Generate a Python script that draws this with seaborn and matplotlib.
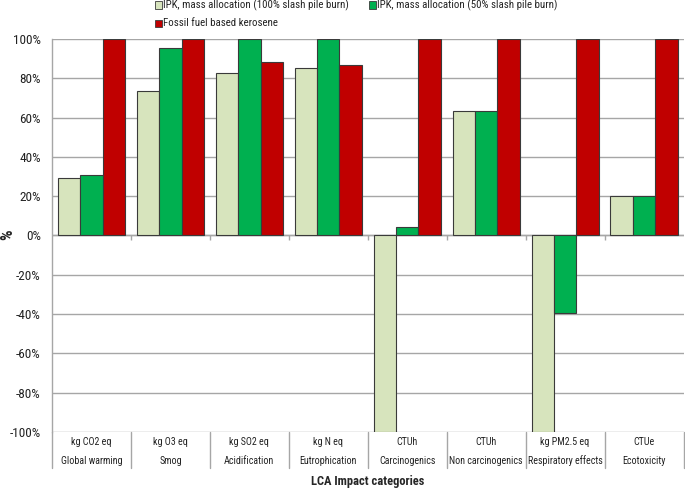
import matplotlib
matplotlib.use("Agg")
import matplotlib.pyplot as plt
import matplotlib.transforms as mtransforms
from matplotlib.patches import Rectangle
from matplotlib.ticker import FuncFormatter
import seaborn as sns
import pandas as pd

units = ["kg CO2 eq", "kg O3 eq", "kg SO2 eq", "kg N eq", "CTUh", "CTUh", "kg PM2.5 eq", "CTUe"]
categories = ["Global warming", "Smog", "Acidification", "Eutrophication", "Carcinogenics",
              "Non carcinogenics", "Respiratory effects", "Ecotoxicity"]
series_names = ["IPK, mass allocation (100% slash pile burn)",
                "IPK, mass allocation (50% slash pile burn)",
                "Fossil fuel based kerosene"]
ipk_100 = [29.5, 73.6, 82.5, 85.2, -100, 63.4, -100, 20.0]
ipk_50 = [31.0, 95.6, 100, 100, 4.3, 63.4, -39.4, 20.0]
fossil = [100, 100, 88.3, 86.6, 100, 100, 100, 100]
colors = ["#D7E4BD", "#00B050", "#C00000"]
yticks = [-100, -80, -60, -40, -20, 0, 20, 40, 60, 80, 100]

rows = []
for name, vals in zip(series_names, [ipk_100, ipk_50, fossil]):
    for cat, v in zip(categories, vals):
        rows.append({"category": cat, "series": name, "value": v})
df = pd.DataFrame(rows)

sns.set_style("white")
FONT = ["Roboto Condensed", "Liberation Sans Narrow", "Roboto", "DejaVu Sans"]
plt.rcParams["font.family"] = FONT

W, H = 685, 491
fig = plt.figure(figsize=(W / 100, H / 100), dpi=100)
x0, x1, ytop, ybot = 52, 683.5, 39, 432
ax = fig.add_axes([x0 / W, 1 - ybot / H, (x1 - x0) / W, (ybot - ytop) / H])

sns.barplot(data=df, x="category", y="value", hue="series", hue_order=series_names,
            order=categories, palette=colors, saturation=1, width=0.85,
            edgecolor="#3a3a3a", linewidth=0.8, legend=False, ax=ax, zorder=3)

ax.set_xlim(-0.5, len(categories) - 0.5)
ax.set_ylim(-100, 100)
ax.set_yticks(yticks)
ax.yaxis.set_major_formatter(FuncFormatter(lambda v, p: f"{int(round(v))}%"))
ax.grid(axis="y", color="#A6A6A6", linewidth=1.0, zorder=0)
ax.set_axisbelow(True)
for s in ["top", "right", "bottom"]:
    ax.spines[s].set_visible(False)
ax.spines["left"].set_color("#A6A6A6")
ax.spines["left"].set_linewidth(1.0)
ax.tick_params(axis="y", length=5, width=1.0, color="#A6A6A6", labelsize=9.5, pad=3,
               labelcolor="#222222")
ax.tick_params(axis="x", bottom=False, labelbottom=False)
ax.set_xlabel("")
ax.set_ylabel("")

# zero axis line with category tick marks
ax.axhline(0, color="#A6A6A6", linewidth=1.0, zorder=2)
ax.vlines([i + 0.5 for i in range(len(categories) - 1)], -2.2, 0, color="#A6A6A6",
          linewidth=1.0, zorder=2)

# two-level category labels below the axes
trans = mtransforms.blended_transform_factory(ax.transData, ax.transAxes)
hpx = ybot - ytop
for i, (u, c) in enumerate(zip(units, categories)):
    ax.text(i, -10 / hpx, u, transform=trans, ha="center", va="center", fontsize=7.2,
            color="#222222")
    ax.text(i, -29 / hpx, c, transform=trans, ha="center", va="center", fontsize=7.2,
            color="#222222")
for b in range(len(categories) + 1):
    ax.plot([b - 0.5, b - 0.5], [0, -36 / hpx], transform=trans, color="#A6A6A6",
            linewidth=1.0, clip_on=False)

fig.text(8 / W, 1 - 235 / H, "%", rotation=90, ha="center", va="center",
         fontsize=12, fontweight="bold")
fig.text(368 / W, 1 - 481 / H, "LCA Impact categories", ha="center", va="center",
         fontsize=9, fontweight="bold")

# legend
leg_items = [(158, 5, 0), (372, 5, 1), (158, 23, 2)]
for (lx, ly, k) in leg_items:
    sq = 7
    fig.add_artist(Rectangle(((lx - sq / 2) / W, 1 - (ly + sq / 2) / H), sq / W, sq / H,
                             transform=fig.transFigure, facecolor=colors[k],
                             edgecolor="#3a3a3a", linewidth=0.6))
    fig.text((lx + 5) / W, 1 - ly / H, series_names[k], ha="left", va="center",
             fontsize=7.8, color="#222222")

fig.savefig("out.png", dpi=100)
